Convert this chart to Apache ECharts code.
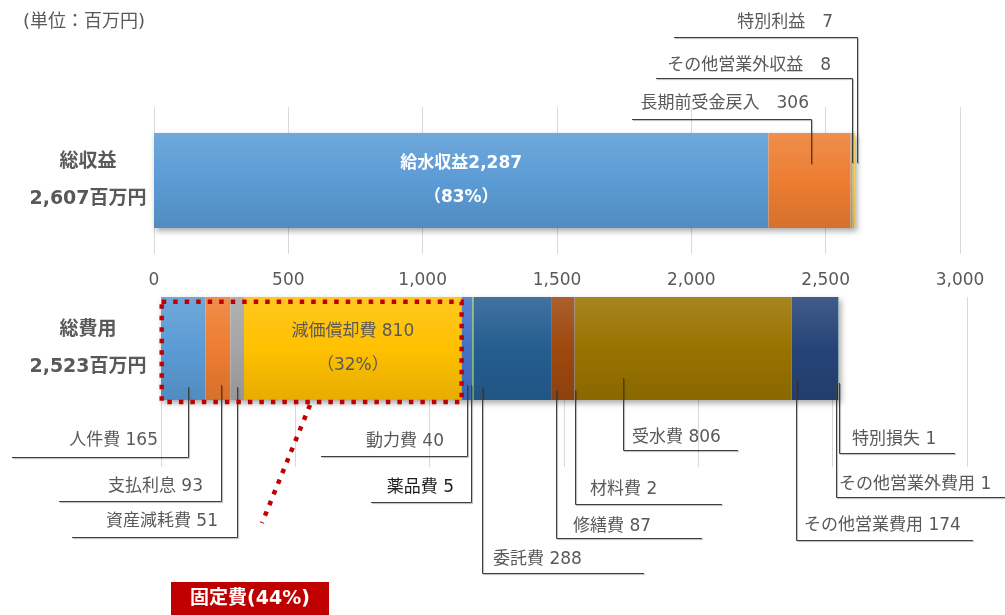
<!DOCTYPE html>
<html>
<head>
<meta charset="utf-8">
<script src="https://cdn.jsdelivr.net/npm/echarts@6/dist/echarts.min.js"></script>
<style>
  html, body { margin: 0; padding: 0; background: #ffffff; }
  #chart { width: 1005px; height: 615px; }
</style>
</head>
<body>
<div id="chart"></div>
<script>
// ---- data (百万円) ----
const categories = ['総収益', '総費用'];
const statedTotals = [2607, 2523];

const revenueNames  = ['給水収益', '長期前受金戻入', 'その他営業外収益', '特別利益'];
const revenueValues = [2287, 306, 8, 7];

const costNames  = ['人件費', '支払利息', '資産減耗費', '減価償却費', '動力費', '薬品費', '委託費',
                    '修繕費', '材料費', '受水費', 'その他営業費用', 'その他営業外費用', '特別損失'];
const costValues = [165, 93, 51, 810, 40, 5, 288, 87, 2, 806, 174, 1, 1];

const xTicks = [0, 500, 1000, 1500, 2000, 2500, 3000];

const waterRevenueSharePct = 83;
const depreciationSharePct = 32;
const fixedCostNames = ['人件費', '支払利息', '資産減耗費', '減価償却費'];
const fixedCostSharePct = 44;

const unitText = '(単位：百万円)';

// ---- styles ----
const FONT = "'DejaVu Sans','Noto Sans CJK JP',sans-serif";
const TEXT_GRAY = '#595959';
const revenueColors = ['#5B9BD5', '#ED7D31', '#A5A5A5', '#FFC000'];
const costColors = ['#5B9BD5', '#ED7D31', '#A5A5A5', '#FFC000', '#4472C4', '#70AD47', '#255E91',
                    '#9E480E', '#636363', '#997300', '#264478', '#43682B', '#7CAFDD'];

function shade(hex, t) {
  const n = parseInt(hex.slice(1), 16);
  const ch = [(n >> 16) & 255, (n >> 8) & 255, n & 255].map(c =>
    Math.round(t >= 0 ? c + (255 - c) * t : c * (1 + t)));
  return 'rgb(' + ch.join(',') + ')';
}
function barFill(hex) {
  return new echarts.graphic.LinearGradient(0, 0, 0, 1, [
    { offset: 0, color: shade(hex, 0.13) },
    { offset: 0.5, color: hex },
    { offset: 1, color: shade(hex, -0.1) }
  ]);
}
const fmt = v => v.toLocaleString('en-US');
const sum = a => a.reduce((s, v) => s + v, 0);

const axisMin = xTicks[0];
const axisMax = xTicks[xTicks.length - 1];
const axisStep = xTicks[1] - xTicks[0];

const TOP_BAR_W = 95;
const COST_BAR_W = 103;

const chart = echarts.init(document.getElementById('chart'), null, { renderer: 'canvas' });

const hiddenCat = { axisLine: { show: false }, axisTick: { show: false } };

const series = [];
// soft drop shadow under each whole bar
series.push({
  type: 'bar', xAxisIndex: 0, yAxisIndex: 0, data: [sum(revenueValues)],
  barWidth: TOP_BAR_W, barGap: '-100%', z: 1, silent: true,
  itemStyle: { color: '#ffffff', shadowBlur: 6, shadowOffsetX: 2, shadowOffsetY: 3, shadowColor: 'rgba(0,0,0,0.35)' }
});
series.push({
  type: 'bar', xAxisIndex: 1, yAxisIndex: 1, data: [sum(costValues)],
  barWidth: COST_BAR_W, barGap: '-100%', z: 1, silent: true,
  itemStyle: { color: '#ffffff', shadowBlur: 6, shadowOffsetX: 2, shadowOffsetY: 3, shadowColor: 'rgba(0,0,0,0.35)' }
});

revenueNames.forEach((name, i) => {
  const s = {
    name, type: 'bar', stack: 'revenue', xAxisIndex: 0, yAxisIndex: 0,
    data: [revenueValues[i]], barWidth: TOP_BAR_W, barGap: '-100%', z: 2,
    itemStyle: { color: barFill(revenueColors[i]) }
  };
  if (i === 0) {
    s.label = {
      show: true, position: 'inside',
      formatter: p => p.seriesName + fmt(p.value) + '\n（' + waterRevenueSharePct + '%）',
      color: '#ffffff', fontWeight: 'bold', fontSize: 17, lineHeight: 34, fontFamily: FONT
    };
  }
  series.push(s);
});

costNames.forEach((name, i) => {
  const s = {
    name, type: 'bar', stack: 'cost', xAxisIndex: 1, yAxisIndex: 1,
    data: [costValues[i]], barWidth: COST_BAR_W, barGap: '-100%', z: 2,
    itemStyle: { color: barFill(costColors[i]) }
  };
  if (name === '減価償却費') {
    s.label = {
      show: true, position: 'inside',
      formatter: p => p.seriesName + ' ' + fmt(p.value) + '\n（' + depreciationSharePct + '%）',
      color: TEXT_GRAY, fontSize: 17, lineHeight: 34, fontFamily: FONT
    };
  }
  series.push(s);
});

chart.setOption({
  animation: false,
  backgroundColor: '#ffffff',
  grid: [
    { left: 154, top: 107, width: 806, height: 147 },
    { left: 161, top: 297, width: 806, height: COST_BAR_W },
    { left: 161, top: 297, width: 806, height: 170 }
  ],
  xAxis: [
    {
      gridIndex: 0, type: 'value', min: axisMin, max: axisMax, interval: axisStep,
      axisLine: { show: false }, axisTick: { show: false },
      splitLine: { lineStyle: { color: '#D9D9D9', width: 1 } },
      axisLabel: { margin: 18, color: TEXT_GRAY, fontSize: 17, fontFamily: FONT, formatter: v => fmt(v) }
    },
    { gridIndex: 1, type: 'value', min: axisMin, max: axisMax, interval: axisStep, show: false },
    {
      gridIndex: 2, type: 'value', min: axisMin, max: axisMax, interval: axisStep,
      axisLine: { show: false }, axisTick: { show: false }, axisLabel: { show: false },
      splitLine: { lineStyle: { color: '#D9D9D9', width: 1 } }
    }
  ],
  yAxis: [
    Object.assign({
      gridIndex: 0, type: 'category', data: [categories[0]],
      axisLabel: {
        margin: 66, align: 'center', color: TEXT_GRAY, fontSize: 19, fontWeight: 'bold',
        lineHeight: 37, fontFamily: FONT,
        formatter: v => v + '\n' + fmt(statedTotals[0]) + '百万円'
      }
    }, hiddenCat),
    Object.assign({
      gridIndex: 1, type: 'category', data: [categories[1]],
      axisLabel: {
        margin: 73, align: 'center', color: TEXT_GRAY, fontSize: 19, fontWeight: 'bold',
        lineHeight: 37, fontFamily: FONT, padding: [16, 0, 0, 0],
        formatter: v => v + '\n' + fmt(statedTotals[1]) + '百万円'
      }
    }, hiddenCat),
    { gridIndex: 2, type: 'category', data: [''], show: false }
  ],
  series
});

// ---- callout labels with elbow leader lines ----
// frac: where along its segment a leader starts; the rest is label placement in px.
const revenueCallouts = [
  { name: '特別利益',         frac: 1,    dx: 2, y0: 163, elbowY: 37,  lineTo: 674, tx: 833, ty: 22.5, align: 'right' },
  { name: 'その他営業外収益', frac: 0.6,  dx: 0, y0: 163, elbowY: 78,  lineTo: 656, tx: 831, ty: 66,   align: 'right' },
  { name: '長期前受金戻入',   frac: 0.52, dx: 0, y0: 164, elbowY: 119, lineTo: 632, tx: 809, ty: 104,  align: 'right' }
];
const costCallouts = [
  { name: '人件費',           frac: 0.61,  dx: 0,  y0: 387, elbowY: 457, lineTo: 12,   tx: 158, ty: 441,   align: 'right' },
  { name: '支払利息',         frac: 0.615, dx: 0,  y0: 385, elbowY: 501, lineTo: 59,   tx: 203, ty: 486.5, align: 'right' },
  { name: '資産減耗費',       frac: 0.47,  dx: 0,  y0: 387, elbowY: 537, lineTo: 72,   tx: 218, ty: 521.5, align: 'right' },
  { name: '動力費',           frac: 0.47,  dx: 0,  y0: 385, elbowY: 456, lineTo: 321,  tx: 444, ty: 441.5, align: 'right' },
  { name: '薬品費',           frac: 0,     dx: -1, y0: 385, elbowY: 502, lineTo: 371,  tx: 454, ty: 488,   align: 'right', dark: true },
  { name: '委託費',           frac: 0.11,  dx: 0,  y0: 387, elbowY: 573, lineTo: 644,  tx: 493, ty: 560,   align: 'left' },
  { name: '修繕費',           frac: 0.2,   dx: 0,  y0: 390, elbowY: 538, lineTo: 702,  tx: 573, ty: 527,   align: 'left' },
  { name: '材料費',           frac: 0.4,   dx: 0,  y0: 390, elbowY: 504, lineTo: 722,  tx: 590, ty: 490,   align: 'left' },
  { name: '受水費',           frac: 0.223, dx: 0,  y0: 378, elbowY: 450, lineTo: 738,  tx: 632, ty: 438,   align: 'left' },
  { name: 'その他営業費用',   frac: 0.095, dx: 0,  y0: 380, elbowY: 540, lineTo: 973,  tx: 804, ty: 526,   align: 'left' },
  { name: 'その他営業外費用', frac: 0,     dx: -2, y0: 383, elbowY: 497, lineTo: 1006, tx: 839, ty: 485,   align: 'left' },
  { name: '特別損失',         frac: 1,     dx: 0.5, y0: 383, elbowY: 453, lineTo: 955, tx: 852, ty: 440,   align: 'left' }
];

function buildCallouts(names, values, axisIndex, callouts, sep) {
  const starts = [];
  values.reduce((acc, v, i) => { starts[i] = acc; return acc + v; }, 0);
  const els = [];
  callouts.forEach(c => {
    const i = names.indexOf(c.name);
    const v = starts[i] + values[i] * c.frac;
    const x = Math.round(chart.convertToPixel({ xAxisIndex: axisIndex }, v) + c.dx) + 0.5;
    const ey = Math.round(c.elbowY) + 0.5;
    els.push({
      type: 'polyline', z: 10, silent: true,
      shape: { points: [[x, c.y0], [x, ey], [c.lineTo, ey]] },
      style: { fill: null, stroke: '#3f3f3f', lineWidth: 1,
               shadowColor: 'rgba(0,0,0,0.3)', shadowOffsetX: 1, shadowOffsetY: 1, shadowBlur: 1 }
    });
    els.push({
      type: 'text', z: 11, silent: true, x: c.tx, y: c.ty,
      style: {
        text: c.name + sep + fmt(values[i]),
        font: '17px ' + FONT, fill: c.dark ? '#1e1e1e' : TEXT_GRAY,
        align: c.align, verticalAlign: 'middle'
      }
    });
  });
  return els;
}

const graphics = [];
graphics.push({
  type: 'text', x: 23, y: 22, silent: true,
  style: { text: unitText, font: '18px ' + FONT, fill: TEXT_GRAY, align: 'left', verticalAlign: 'middle' }
});
graphics.push(...buildCallouts(revenueNames, revenueValues, 0, revenueCallouts, '　'));
graphics.push(...buildCallouts(costNames, costValues, 1, costCallouts, ' '));

// dotted frame around the fixed-cost segments
const fixedTotal = sum(costValues.filter((v, i) => fixedCostNames.includes(costNames[i])));
const fx0 = chart.convertToPixel({ xAxisIndex: 1 }, 0) + 0.7;
const fx1 = chart.convertToPixel({ xAxisIndex: 1 }, fixedTotal);
const dotted = { fill: null, stroke: '#C00000', lineWidth: 4.5, lineDash: [4.5, 7] };
graphics.push({
  type: 'rect', z: 12, silent: true,
  shape: { x: fx0, y: 301.7, width: fx1 - fx0, height: 100.3 },
  style: dotted
});
graphics.push({
  type: 'line', z: 12, silent: true,
  shape: { x1: 310, y1: 405, x2: 262, y2: 523 },
  style: dotted
});
graphics.push({
  type: 'rect', z: 12, silent: true,
  shape: { x: 171, y: 582, width: 158, height: 40 },
  style: { fill: '#C00000' }
});
graphics.push({
  type: 'text', z: 13, silent: true, x: 250, y: 599.5,
  style: { text: '固定費(' + fixedCostSharePct + '%)', font: 'bold 19px ' + FONT, fill: '#ffffff',
           align: 'center', verticalAlign: 'middle' }
});

chart.setOption({ graphic: graphics });
</script>
</body>
</html>
